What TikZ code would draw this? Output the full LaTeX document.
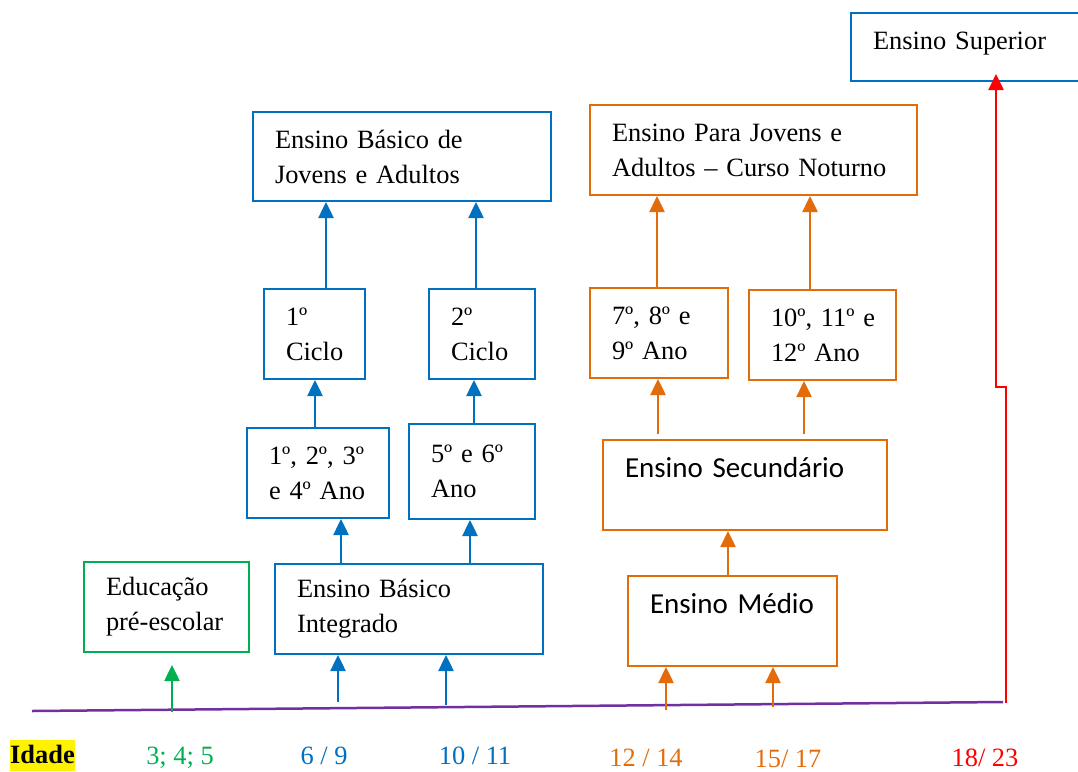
\documentclass[tikz,border=0pt]{standalone}
\usepackage{fontspec}
\setmainfont{Liberation Serif}
\newfontfamily\calibrifont{Carlito}
\usetikzlibrary{arrows.meta}

\definecolor{eblue}{HTML}{0070C0}
\definecolor{eorange}{HTML}{E36C0A}
\definecolor{egreen}{HTML}{00B050}
\definecolor{ered}{HTML}{FF0000}
\definecolor{epurple}{HTML}{7030A0}

\begin{document}
\begin{tikzpicture}[
    x=1pt, y=-1pt,
    >={Triangle[length=16pt,width=15pt]},
    every node/.style={font=\fontsize{26.4}{35}\selectfont},
    box/.style={draw, line width=2pt, anchor=north west, inner xsep=22pt, inner ysep=0pt, align=left},
    bluebox/.style={box, draw=eblue},
    orangebox/.style={box, draw=eorange},
    greenbox/.style={box, draw=egreen},
    calibribox/.style={orangebox, font=\calibrifont\fontsize{29}{35}\selectfont},
    arrowline/.style={->, line width=2.5pt},
    bluearrow/.style={arrowline, eblue},
    orangearrow/.style={arrowline, eorange},
    greenarrow/.style={arrowline, egreen},
    redarrow/.style={arrowline, ered},
    agelabel/.style={anchor=base, inner sep=0pt},
]
\useasboundingbox (0,0) rectangle (1078,771);

% ---- Top ----
\node[bluebox, minimum width=235pt, minimum height=68pt, text width=191pt, text depth=12pt] (superior) at (850,12) {Ensino~Superior};
\node[bluebox, minimum width=298pt, minimum height=89pt, text width=254pt] (ebja) at (252,111) {Ensino~Básico~de\\Jovens~e~Adultos};
\node[orangebox, minimum width=327pt, minimum height=90pt, text width=283pt] (epja) at (589,104) {Ensino~Para~Jovens~e\\Adultos~--~Curso~Noturno};

% ---- Cycles and years ----
\node[bluebox, minimum width=101pt, minimum height=90pt, text width=57pt] (ciclo1) at (263,288) {1º\\Ciclo};
\node[bluebox, minimum width=106pt, minimum height=90pt, text width=62pt] (ciclo2) at (428,288) {2º\\Ciclo};
\node[orangebox, minimum width=138pt, minimum height=90pt, text width=94pt] (ano79) at (589,287) {7º,~8º~e\\9º~Ano};
\node[orangebox, minimum width=147pt, minimum height=90pt, text width=103pt] (ano1012) at (748,289) {10º,~11º~e\\12º~Ano};
\node[bluebox, minimum width=142pt, minimum height=90pt, text width=98pt] (ano14) at (246,427) {1º,~2º,~3º\\e~4º~Ano};
\node[bluebox, minimum width=126pt, minimum height=95pt, text width=82pt] (ano56) at (408,423) {5º~e~6º\\Ano};
\node[calibribox, minimum width=284pt, minimum height=90pt, text width=240pt] (secundario) at (602,439) {Ensino~Secundário\\\mbox{}};

% ---- Bottom boxes ----
\node[greenbox, minimum width=165pt, minimum height=90pt, text width=121pt] (preescolar) at (83,561) {Educação\\pré-escolar};
\node[bluebox, minimum width=268pt, minimum height=90pt, text width=224pt] (ebi) at (274,563) {Ensino~Básico\\Integrado};
\node[calibribox, minimum width=209pt, minimum height=90pt, text width=165pt] (medio) at (627,575) {Ensino~Médio\\\mbox{}};

% ---- Timeline ----
\coordinate (tlstart) at (32,711);
\coordinate (tlend) at (1003,702);
\draw[epurple, line width=2.5pt] (tlstart) -- (tlend);

\coordinate (t3) at (172,712);
\coordinate (t6) at (338,702);
\coordinate (t10) at (446,705);
\coordinate (t12) at (666,710);
\coordinate (t15) at (773,707);
\coordinate (t18) at (1006,703);

% arrows from the timeline
\draw[greenarrow, shorten >=12pt] (t3) -- (t3 |- preescolar.south);
\draw[bluearrow] (t6) -- (t6 |- ebi.south);
\draw[bluearrow] (t10) -- (t10 |- ebi.south);
\draw[orangearrow] (t12) -- (t12 |- medio.south);
\draw[orangearrow] (t15) -- (t15 |- medio.south);
\draw[redarrow, shorten >=-8pt] (t18) -- ++(0,-316) -| (superior.south -| 996,0);

% blue arrows
\draw[bluearrow] (ebi.north -| 341,0) -- (ano14.south -| 341,0);
\draw[bluearrow] (ebi.north -| 470,0) -- (ano56.south -| 470,0);
\draw[bluearrow] (ano14.north -| 315,0) -- (ciclo1.south -| 315,0);
\draw[bluearrow] (ano56.north -| 474,0) -- (ciclo2.south -| 474,0);
\draw[bluearrow] (ciclo1.north -| 326,0) -- (ebja.south -| 326,0);
\draw[bluearrow] (ciclo2.north -| 476,0) -- (ebja.south -| 476,0);

% orange arrows
\draw[orangearrow] (medio.north -| 728,0) -- (secundario.south -| 728,0);
\draw[orangearrow] ([yshift=5pt]secundario.north -| 658,0) -- (ano79.south -| 658,0);
\draw[orangearrow] ([yshift=5pt]secundario.north -| 804,0) -- (ano1012.south -| 804,0);
\draw[orangearrow] (ano79.north -| 657,0) -- (epja.south -| 657,0);
\draw[orangearrow] (ano1012.north -| 810,0) -- (epja.south -| 810,0);

% ---- Ages ----
\node[anchor=base west, fill=yellow, inner sep=0pt, text height=23pt, text depth=8pt, font=\fontsize{26.4}{35}\selectfont\bfseries] (idade) at (10,763) {Idade};
\node[agelabel, text=egreen] (age3) at (180,764) {3; 4; 5};
\node[agelabel, text=eblue] (age6) at (324,764) {6 / 9};
\node[agelabel, text=eblue] (age10) at (475,764) {10 / 11};
\node[agelabel, text=eorange] (age12) at (646,766) {12 / 14};
\node[agelabel, text=eorange] (age15) at (788,767) {15/ 17};
\node[agelabel, text=ered] (age18) at (985,766) {18/ 23};

\end{tikzpicture}
\end{document}
